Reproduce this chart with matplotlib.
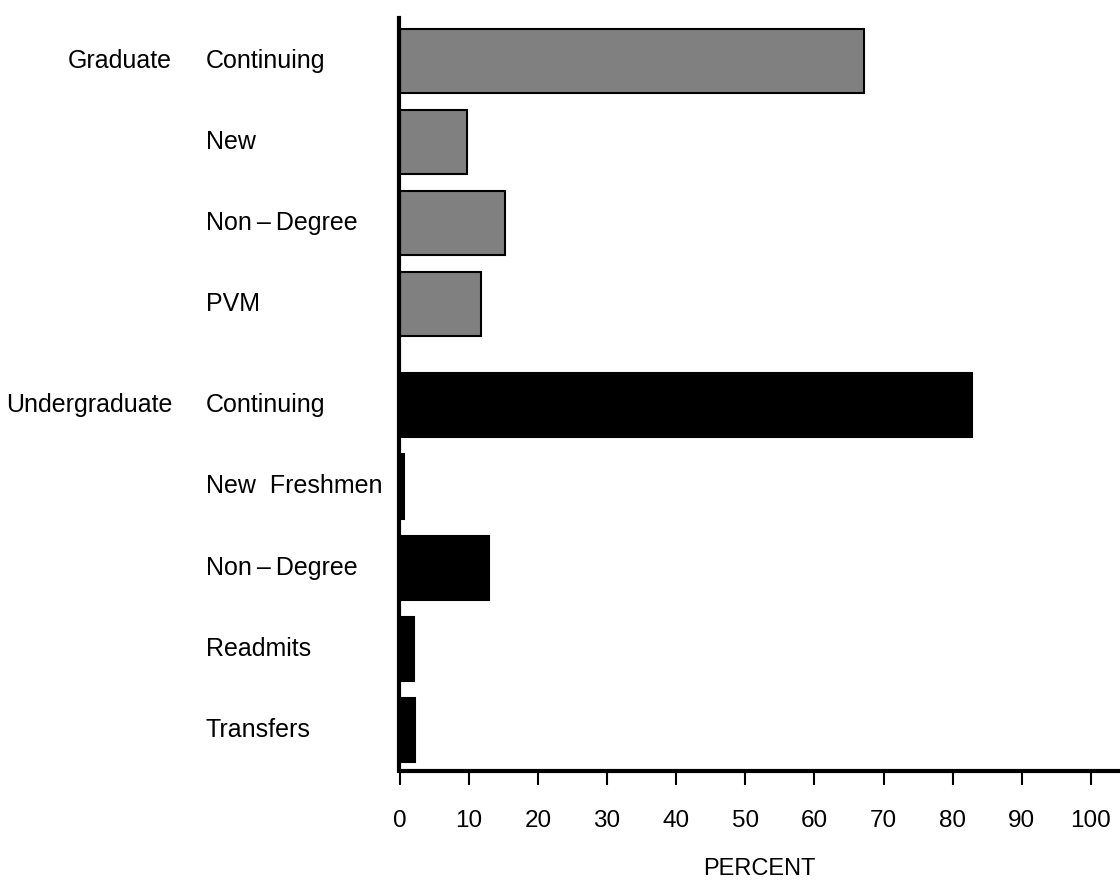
import numpy as np
import matplotlib.pyplot as plt
from matplotlib.transforms import blended_transform_factory

plt.rcParams['font.family'] = ['Liberation Sans', 'DejaVu Sans']

# data
grad_cats = ['Continuing', 'New', 'Non\u2009\u2013\u2009Degree', 'PVM']
grad_vals = [67.2, 9.7, 15.3, 11.8]
under_cats = ['Continuing', 'New  Freshmen', 'Non\u2009\u2013\u2009Degree', 'Readmits', 'Transfers']
under_vals = [82.8, 0.6, 12.9, 2.0, 2.2]
xticks = [0, 10, 20, 30, 40, 50, 60, 70, 80, 90, 100]

fig = plt.figure(figsize=(11.2, 8.81), dpi=100)
ax = fig.add_axes([399/1120, 1-771/881, 1-399/1120, (771-18)/881])

y_grad = np.arange(len(grad_vals))
y_under = np.arange(len(under_vals)) + 4.25

ax.barh(y_grad, grad_vals, height=0.79, color='#808080', edgecolor='black', linewidth=1.5)
ax.barh(y_under, under_vals, height=0.79, color='black', edgecolor='black', linewidth=1.5)

ax.set_ylim(8.76, -0.53)
ax.set_xlim(-0.1, 104.2)

for s in ['top', 'right']:
    ax.spines[s].set_visible(False)
ax.spines['left'].set_linewidth(3)
ax.spines['bottom'].set_linewidth(3)
ax.spines['bottom'].set_capstyle('butt')

ax.set_yticks([])
ax.set_xticks(xticks)
ax.set_xticklabels([str(t) for t in xticks])
ax.tick_params(axis='x', length=10, width=1.5, labelsize=17.5, pad=18)
ax.set_xlabel('PERCENT', fontsize=17, labelpad=19)

tr = blended_transform_factory(fig.transFigure, ax.transData)
for y, c in zip(y_grad, grad_cats):
    ax.text(206/1120, y, c, transform=tr, ha='left', va='center', fontsize=18)
for y, c in zip(y_under, under_cats):
    ax.text(206/1120, y, c, transform=tr, ha='left', va='center', fontsize=18)
ax.text(172/1120, y_grad[0], 'Graduate', transform=tr, ha='right', va='center', fontsize=18)
ax.text(172/1120, y_under[0], 'Undergraduate', transform=tr, ha='right', va='center', fontsize=18)

fig.savefig('out.png', dpi=100)
